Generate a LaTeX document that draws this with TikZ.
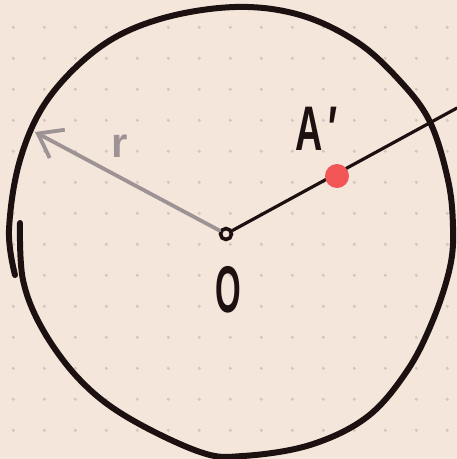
\documentclass[tikz,border=0pt]{standalone}
\usepackage{fontspec}
\setmainfont{Liberation Sans}
\usetikzlibrary{arrows.meta}
\definecolor{paper}{RGB}{245,230,219}
\definecolor{gridgray}{RGB}{212,198,189}
\definecolor{inkblack}{RGB}{28,16,16}
\definecolor{pencilgray}{RGB}{158,147,148}
\definecolor{dotred}{RGB}{242,85,85}
\tikzset{
  outline/.style={draw=inkblack, line width=6pt, line cap=round, line join=round},
  ray/.style={draw=inkblack, line width=3.2pt, line cap=round},
  rarrow/.style={draw=pencilgray, line width=3.8pt, line cap=round, -{Straight Barb[length=22pt,width=32pt,line width=3.8pt]}},
  hub/.style={circle, draw=inkblack, line width=3.6pt, minimum size=11pt, inner sep=0pt},
  pointdot/.style={circle, fill=dotred, minimum size=24pt, inner sep=0pt},
  hand/.style={inner sep=0pt, text=inkblack}
}
\begin{document}
\begin{tikzpicture}[x=1pt,y=-1pt]
\useasboundingbox[fill=paper] (0,0) rectangle (457,459);
% dotted paper
\foreach \i in {0,...,14}
  \foreach \j in {0,...,13}
    \fill[gridgray] (13.3+31*\i,27.3+31*\j) circle (1.7pt);
% hand drawn circle
\draw[outline] plot[smooth, tension=0.6] coordinates {
  (20,223) (23,280) (43,330) (80,380) (127,417) (200,452) (243,456)
  (310,445) (367,417) (407,371) (433,320) (450,267) (453,227) (448,180)
  (430,122) (400,81) (357,42) (300,15) (235,7) (160,19) (100,47) (48,99)
  (20,160) (9,230) (15,275)};
\node[hub] (O) at (226,234) {};
\coordinate (rayend) at (457,108);
\coordinate (rtip) at (35,132);
\draw[ray] (O) -- (rayend);
\draw[rarrow] (O) -- (rtip);
\node[pointdot] (A) at (337,176) {};
\node[hand, anchor=base west, font=\fontsize{63}{63}\bfseries] (Atext) at (295,150) {\scalebox{0.6}[1]{A\,′}};
\node[hand, anchor=base, font=\fontsize{66}{66}\bfseries] (Otext) at (228,312) {\scalebox{0.5}[1]{O}};
\node[hand, anchor=base, text=pencilgray, font=\fontsize{42}{42}\bfseries] (rtext) at (120,157) {r};
\end{tikzpicture}
\end{document}
